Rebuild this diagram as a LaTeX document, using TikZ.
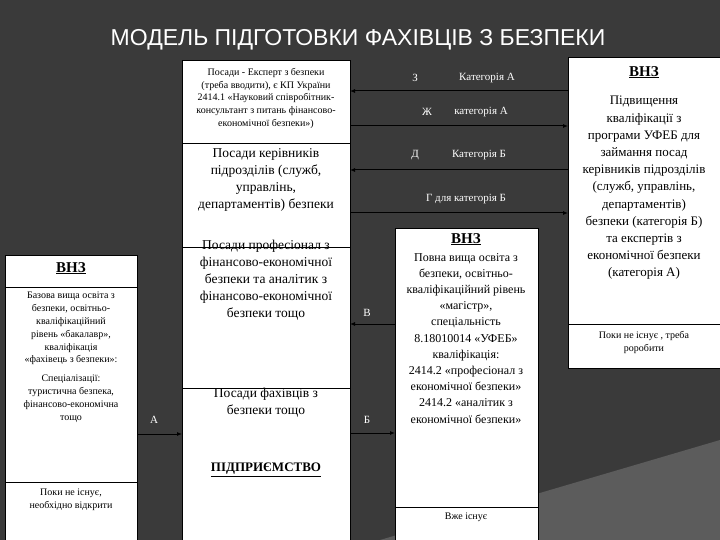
\documentclass[tikz,border=0pt]{standalone}
\usepackage{fontspec}
\setmainfont{Liberation Serif}
\newfontfamily\titlefont{Liberation Sans}
\usetikzlibrary{arrows.meta}
\definecolor{bgdark}{HTML}{3A3A3A}
\definecolor{bglight}{HTML}{5C5C5C}
\begin{document}
\begin{tikzpicture}[x=1pt,y=-1pt,
  boxw/.style={draw=black,fill=white,line width=0.8pt},
  sep/.style={draw=black,line width=0.8pt},
  txt/.style={align=center,inner sep=0pt,font=\fontsize{10}{12.8}\selectfont,anchor=north},
  bigtxt/.style={align=center,inner sep=0pt,font=\fontsize{13.5}{17}\selectfont,anchor=north},
  lbl/.style={text=white,inner sep=0pt,font=\fontsize{11}{12}\selectfont},
  arr/.style={draw=black,line width=1pt,-{Latex[length=5pt,width=4pt]}}]
\useasboundingbox (0,0) rectangle (720,540);
\fill[bgdark] (0,0) rectangle (720,540);
\fill[bglight] (380,540) -- (720,440) -- (720,540) -- cycle;
\node[text=white,font=\titlefont\fontsize{23}{26}\selectfont] (title) at (358,40) {МОДЕЛЬ ПІДГОТОВКИ ФАХІВЦІВ З БЕЗПЕКИ};
% middle column
\path[boxw] (182,60) rectangle (350,540);
\draw[sep] (182,143) -- (350,143);
\draw[sep] (182,247) -- (350,247);
\draw[sep] (182,388) -- (350,388);
\coordinate (m1) at (350,91);
\coordinate (m2) at (350,126);
\coordinate (m3) at (350,170);
\coordinate (m4) at (350,213);
\coordinate (m5) at (350,324);
\coordinate (m6) at (350,433);
\coordinate (m7) at (182,434);
\node[txt] (t1) at (266,68) {Посади - Експерт з безпеки\\(треба вводити), є КП України\\2414.1 «Науковий співробітник-\\консультант з питань фінансово-\\економічної безпеки»)};
\node[bigtxt] (t2) at (266,148) {Посади керівників\\підрозділів (служб,\\управлінь,\\департаментів) безпеки};
\node[bigtxt] (t3) at (266,240) {Посади професіонал з\\фінансово-економічної\\безпеки та аналітик з\\фінансово-економічної\\безпеки тощо};
\node[bigtxt] (t4) at (266,388) {Посади фахівців з\\безпеки тощо};
\node[txt,font=\bfseries\fontsize{13}{15}\selectfont] (t5) at (266,463) {\underline{ПІДПРИЄМСТВО}};
% left box
\path[boxw] (5,255) rectangle (137,540);
\draw[sep] (5,287) -- (137,287);
\draw[sep] (5,482) -- (137,482);
\coordinate (l1) at (137,434);
\node[txt,font=\bfseries\fontsize{15}{17}\selectfont] (lh) at (71,262) {\underline{ВНЗ}};
\node[txt] (lt) at (71,292) {Базова вища освіта з\\безпеки, освітньо-\\кваліфікаційний\\рівень «бакалавр»,\\кваліфікація\\«фахівець з безпеки»:\\[6pt]Спеціалізації:\\туристична безпека,\\фінансово-економічна\\тощо};
\node[txt] (lb) at (71,489) {Поки не існує,\\необхідно відкрити};
% right-middle box
\path[boxw] (395,228) rectangle (538,540);
\draw[sep] (395,507) -- (538,507);
\coordinate (r1) at (395,324);
\coordinate (r2) at (395,433);
\node[txt,font=\bfseries\fontsize{15}{17}\selectfont] (rh) at (466,233) {\underline{ВНЗ}};
\node[txt,font=\fontsize{12}{16.2}\selectfont] (rt) at (466,253) {Повна вища освіта з\\безпеки, освітньо-\\кваліфікаційний рівень\\«магістр»,\\спеціальність\\8.18010014 «УФЕБ»\\кваліфікація:\\2414.2 «професіонал з\\економічної безпеки»\\2414.2 «аналітик з\\економічної безпеки»};
\node[txt] (rb) at (466,513) {Вже існує};
% right box
\path[boxw] (568,57) rectangle (720,368);
\draw[sep] (568,324) -- (720,324);
\coordinate (q1) at (568,91);
\coordinate (q2) at (568,126);
\coordinate (q3) at (568,170);
\coordinate (q4) at (568,213);
\node[txt,font=\bfseries\fontsize{15}{17}\selectfont] (qh) at (644,66) {\underline{ВНЗ}};
\node[txt,font=\fontsize{13}{17.2}\selectfont] (qt) at (644,96) {Підвищення\\кваліфікації з\\програми УФЕБ для\\займання посад\\керівників підрозділів\\(служб, управлінь,\\департаментів)\\безпеки (категорія Б)\\та експертів з\\економічної безпеки\\(категорія А)};
\node[txt] (qb) at (644,331) {Поки не існує , треба\\роробити};
% arrows
\draw[arr] (q1) -- (m1);
\draw[arr] (m2) -- (q2);
\draw[arr] (q3) -- (m3);
\draw[arr] (m4) -- (q4);
\draw[arr] (r1) -- (m5);
\draw[arr] (m6) -- (r2);
\draw[arr] (l1) -- (m7);
\node[lbl] (a1) at (415,78) {З};
\node[lbl] (a2) at (487,78) {Категорія А};
\node[lbl] (a3) at (427,112) {Ж};
\node[lbl] (a4) at (481,112) {категорія А};
\node[lbl] (a5) at (415,155) {Д};
\node[lbl] (a6) at (479,155) {Категорія Б};
\node[lbl] (a7) at (466,199) {Г для категорія Б};
\node[lbl] (a8) at (367,313) {В};
\node[lbl] (a9) at (367,420) {Б};
\node[lbl] (a10) at (154,420) {А};
\end{tikzpicture}
\end{document}
